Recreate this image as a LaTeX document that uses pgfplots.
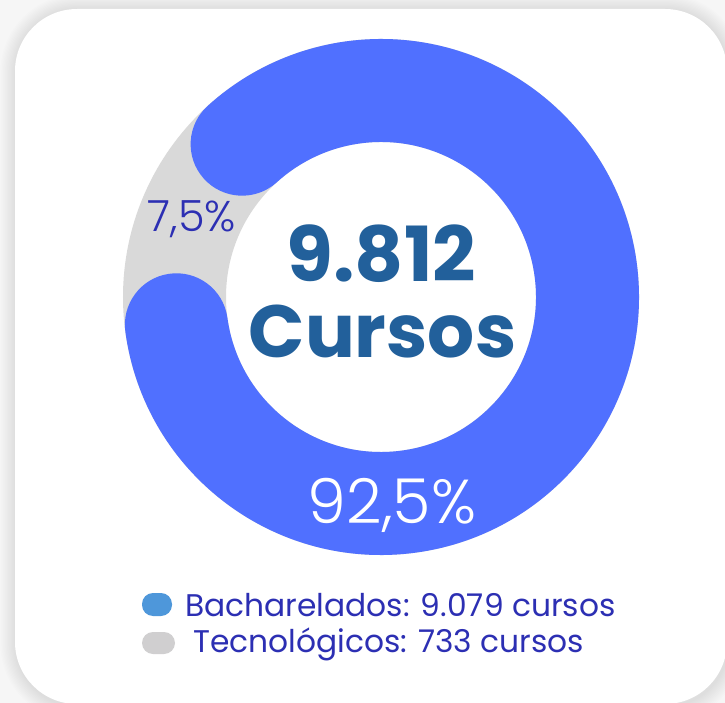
\documentclass[border=0pt]{standalone}
\usepackage{pgfplots}
\pgfplotsset{compat=1.18}
\usepackage{pgfplotstable}
\usepackage{fontspec}
\setmainfont{Poppins}
\newfontfamily\lightfont{Poppins Light}
\definecolor{donutblue}{HTML}{5070FF}
\definecolor{donutgrey}{HTML}{D9D9D9}
\definecolor{legblue}{HTML}{4E97DA}
\definecolor{leggrey}{HTML}{D0CFD0}
\definecolor{indigo}{HTML}{2C2FB3}
\definecolor{centerblue}{HTML}{22609B}
\definecolor{bggrey}{HTML}{F6F6F6}
\pgfplotstableread{
cat value
Bacharelados 9079
Tecnologicos 733
}\datatable
\begin{document}
\begin{tikzpicture}
\pgfplotstablegetelem{0}{value}\of\datatable \let\vA\pgfplotsretval
\pgfplotstablegetelem{1}{value}\of\datatable \let\vB\pgfplotsretval
\pgfmathsetmacro{\gap}{360/(\vA/\vB+1)}
\pgfmathsetmacro{\gapmid}{160}
\pgfmathsetmacro{\capang}{deg(51.5/206.5)}
\pgfmathsetmacro{\bstart}{\gapmid+\gap/2+\capang}
\pgfmathsetmacro{\bend}{\gapmid+360-\gap/2-\capang}
\begin{axis}[scale only axis, width=725pt, height=702pt,
  xmin=0, xmax=725, ymin=0, ymax=702, hide axis, clip=false]
% background
\fill[bggrey] (axis cs:-30,-30) rectangle (axis cs:760,740);
% shadow
\pgfplotsinvokeforeach{1,...,12}{
  \draw[black, opacity=0.009, line width=#1*2.6pt, rounded corners=62pt]
    (axis cs:16,-4) rectangle (axis cs:728,692);
}
% card
\fill[white, rounded corners=62pt] (axis cs:15,-2) rectangle (axis cs:727,693);
% donut track
\draw[donutgrey, line width=103pt] (axis cs:381,405) circle[radius=206.5pt];
% blue arc
\draw[donutblue, line width=103pt, line cap=round]
  (axis cs:381,405) ++(\bstart:206.5pt) arc[start angle=\bstart, end angle=\bend, radius=206.5pt];
% center text
\node[anchor=base, text=centerblue, font=\fontsize{76}{76}\selectfont\bfseries, inner sep=0pt]
  at (axis cs:381.5,420) {9.812};
\node[anchor=base, text=centerblue, font=\fontsize{74}{74}\selectfont\bfseries, inner sep=0pt]
  at (axis cs:382.5,344) {Cursos};
% percentages
\node[anchor=base, text=indigo, font=\fontsize{43}{43}\lightfont, inner sep=0pt]
  at (axis cs:192,470) {7,5\%};
\node[anchor=base, text=white, font=\fontsize{62}{62}\lightfont, inner sep=0pt]
  at (axis cs:392,179) {92,5\%};
% legend
\fill[legblue, rounded corners=11pt] (axis cs:142,86) rectangle (axis cs:172,109);
\fill[leggrey, rounded corners=11pt] (axis cs:142,48) rectangle (axis cs:175,70);
\node[anchor=base west, text=indigo, font=\fontsize{31.3}{31.3}\selectfont, inner sep=0pt]
  at (axis cs:185,86) {Bacharelados: 9.079 cursos};
\node[anchor=base west, text=indigo, font=\fontsize{31.3}{31.3}\selectfont, inner sep=0pt]
  at (axis cs:193,50) {Tecnológicos: 733 cursos};
\end{axis}
\pgfresetboundingbox
\useasboundingbox (current axis.south west) rectangle (current axis.north east);
\end{tikzpicture}
\end{document}
